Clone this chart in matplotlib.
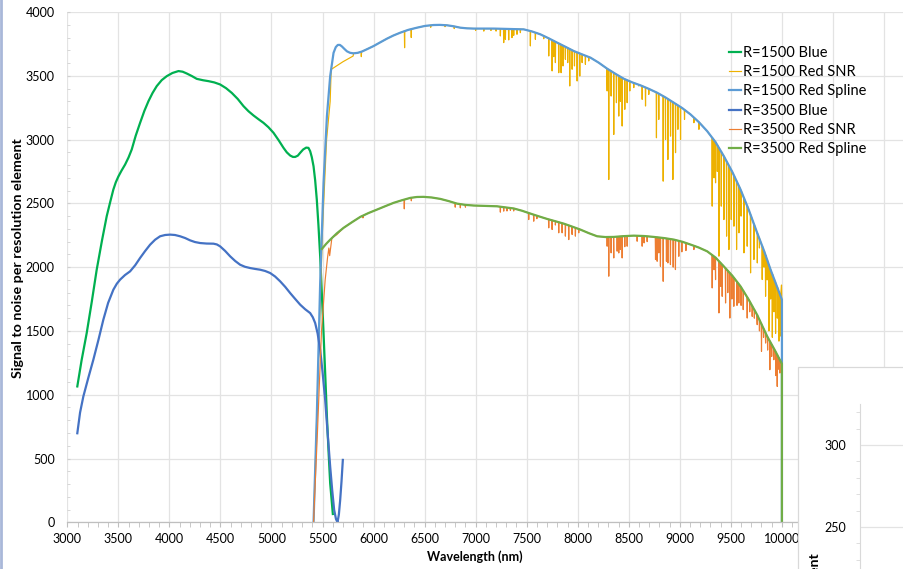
import numpy as np
import matplotlib
matplotlib.use("Agg")
import matplotlib.pyplot as plt
from matplotlib.lines import Line2D
from matplotlib.patches import Rectangle
from matplotlib.ticker import MultipleLocator

plt.rcParams['font.family'] = ['Lato', 'DejaVu Sans']

# R=1500 blue arm
r1500_blue_wl = [3098, 3140, 3190, 3240, 3288, 3340, 3386, 3420, 3451, 3475, 3500, 3530,
                 3566, 3600, 3631, 3670, 3713, 3755, 3795, 3835, 3876, 3925, 3974, 4030,
                 4089, 4130, 4170, 4220, 4268, 4330, 4383, 4440, 4497, 4555, 4611, 4670,
                 4726, 4775, 4824, 4872, 4922, 4970, 5020, 5070, 5118, 5150, 5183, 5210,
                 5232, 5258, 5281, 5310, 5340, 5362, 5379, 5395, 5412, 5428, 5444, 5460,
                 5477, 5493, 5510, 5527, 5543, 5560, 5575, 5601]
r1500_blue = [1065, 1270, 1483, 1730, 1980, 2210, 2399, 2510, 2608, 2665, 2710, 2755,
              2804, 2860, 2922, 3030, 3131, 3225, 3301, 3365, 3419, 3466, 3497, 3522,
              3537, 3532, 3518, 3498, 3476, 3465, 3458, 3448, 3432, 3403, 3366, 3318,
              3262, 3222, 3189, 3160, 3131, 3097, 3053, 2995, 2935, 2900, 2875, 2864,
              2864, 2874, 2896, 2922, 2937, 2935, 2909, 2862, 2791, 2680, 2529, 2330,
              2085, 1800, 1483, 1150, 829, 540, 306, 65]

# R=3500 blue arm
r3500_blue_wl = [3098, 3125, 3157, 3205, 3255, 3305, 3353, 3400, 3451, 3485, 3517, 3565,
                 3615, 3665, 3713, 3762, 3811, 3860, 3909, 3958, 4007, 4055, 4105, 4155,
                 4203, 4250, 4301, 4365, 4432, 4465, 4497, 4545, 4595, 4645, 4693, 4740,
                 4791, 4840, 4889, 4938, 4987, 5035, 5085, 5135, 5183, 5232, 5281, 5330,
                 5379, 5405, 5428, 5452, 5477, 5500, 5526, 5550, 5575, 5595, 5614, 5632,
                 5647, 5660, 5673, 5686, 5699]
r3500_blue = [698, 860, 986, 1130, 1274, 1430, 1588, 1720, 1823, 1870, 1902, 1938,
              1967, 2015, 2072, 2126, 2176, 2215, 2242, 2252, 2255, 2252, 2242, 2228,
              2210, 2197, 2189, 2185, 2184, 2178, 2163, 2128, 2085, 2048, 2019, 2003,
              1993, 1986, 1980, 1970, 1954, 1927, 1889, 1845, 1797, 1751, 1706, 1670,
              1640, 1607, 1562, 1480, 1352, 1180, 960, 700, 437, 250, 97, 25,
              0, 60, 175, 320, 489]

# R=1500 red arm, smooth continuum
r1500_spline_wl = [5412, 5444, 5477, 5510, 5543, 5575, 5608, 5630, 5650, 5670, 5690, 5715,
                   5739, 5770, 5804, 5845, 5886, 5940, 6000, 6065, 6131, 6195, 6262, 6340,
                   6425, 6505, 6588, 6650, 6719, 6785, 6850, 6915, 6980, 7176, 7471, 7550,
                   7634, 7715, 7798, 7880, 7961, 8045, 8125, 8205, 8288, 8370, 8451, 8535,
                   8615, 8695, 8778, 8860, 8941, 9025, 9105, 9185, 9268, 9350, 9431, 9515,
                   9595, 9675, 9758, 9825, 9889, 9945, 10000, 10000]
r1500_spline = [0, 829, 1875, 2660, 3183, 3497, 3680, 3725, 3742, 3742, 3730, 3710,
                3692, 3680, 3676, 3680, 3690, 3710, 3733, 3762, 3791, 3816, 3838, 3860,
                3877, 3891, 3898, 3899, 3896, 3888, 3877, 3872, 3870, 3870, 3864, 3848,
                3825, 3794, 3760, 3727, 3694, 3667, 3642, 3603, 3556, 3515, 3477, 3448,
                3425, 3398, 3367, 3330, 3289, 3246, 3197, 3138, 3066, 2980, 2870, 2745,
                2608, 2450, 2268, 2128, 1980, 1862, 1745, 0]

# R=1500 red arm SNR: rising edge, absorption line minima, red end
r1500_snr_head_wl = [5412, 5450, 5500, 5540, 5575, 5585, 5700, 5800]
r1500_snr_head = [0, 1000, 2300, 3000, 3300, 3550, 3610, 3655]
r1500_line_wl = [5880, 6304, 6369, 6560, 6700, 6790, 7000, 7080, 7150, 7200,
                 7242, 7275, 7291, 7324, 7356, 7373, 7405, 7438,
                 7536, 7585, 7667,
                 7716, 7749, 7765, 7781, 7814, 7837, 7856, 7879, 7902, 7922, 7945, 7968,
                 7994, 8020, 8043, 8075, 8108,
                 8288, 8304, 8327, 8353, 8379, 8402, 8418, 8435, 8461, 8484, 8510, 8549,
                 8598, 8631, 8664, 8696,
                 8771, 8794, 8837, 8860, 8883, 8909, 8932, 8958, 8981, 9007, 9046, 9089,
                 9138, 9187,
                 9317, 9335, 9350, 9367, 9383, 9406, 9432, 9458, 9481, 9504, 9530, 9556,
                 9579, 9600, 9628, 9660, 9693, 9726, 9759, 9780, 9807, 9825, 9840, 9855,
                 9873, 9890, 9906, 9922, 9938, 9955, 9971, 9985]
r1500_line_min = [3650, 3720, 3800, 3880, 3885, 3870, 3855, 3850, 3855, 3850,
                  3812, 3760, 3786, 3781, 3799, 3817, 3825, 3838,
                  3734, 3786, 3790,
                  3655, 3538, 3650, 3603, 3524, 3524, 3577, 3629, 3603, 3420, 3551, 3577,
                  3459, 3498, 3603, 3590, 3616,
                  3381, 2687, 3341, 3040, 3289, 3184, 3300, 3106, 3237, 3289, 3381, 3407,
                  3420, 3315, 3263, 3354,
                  3014, 3158, 2674, 3001, 2844, 3027, 2687, 2897, 3080, 3001, 3158, 3210,
                  3132, 3080,
                  2478, 2700, 2661, 2750, 2086, 2478, 2373, 2243, 2138, 2373, 2321, 2138,
                  2269, 2400, 2112, 2164, 1955, 2060, 2033, 2150, 1903, 2000, 1772, 1900,
                  1500, 1750, 1450, 1650, 1480, 1600, 1420, 1460]
r1500_snr_tail_wl = [9996, 10000, 10000]
r1500_snr_tail = [1860, 1700, 0]

# R=3500 red arm, smooth continuum
r3500_spline_wl = [5494, 5535, 5576, 5640, 5706, 5790, 5870, 5950, 6033, 6115, 6196, 6280,
                   6360, 6425, 6490, 6570, 6654, 6735, 6817, 6900, 6980, 7209, 7373, 7455,
                   7536, 7620, 7700, 7780, 7863, 7945, 8027, 8110, 8190, 8270, 8353, 8450,
                   8549, 8650, 8745, 8845, 8941, 9025, 9105, 9185, 9268, 9350, 9431, 9515,
                   9595, 9675, 9758, 9856, 9930, 10000, 10000]
r3500_spline = [2143, 2182, 2216, 2265, 2308, 2353, 2394, 2424, 2451, 2478, 2504, 2525,
                2543, 2550, 2551, 2546, 2535, 2518, 2498, 2488, 2483, 2477, 2460, 2442,
                2420, 2398, 2378, 2360, 2341, 2318, 2294, 2266, 2242, 2236, 2237, 2243,
                2247, 2244, 2237, 2228, 2216, 2199, 2177, 2154, 2124, 2075, 2006, 1932,
                1849, 1745, 1625, 1457, 1350, 1242, 0]

# R=3500 red arm SNR
r3500_snr_head_wl = [5412, 5450, 5490, 5526, 5550, 5562, 5570, 5592, 5640]
r3500_snr_head = [0, 700, 1500, 1900, 2080, 2150, 2090, 2230, 2255]
r3500_line_wl = [5896, 6301, 6370, 6800, 6850, 6900, 7242, 7275, 7307, 7340, 7373,
                 7520, 7569, 7600, 7716, 7749, 7781, 7814, 7847, 7879, 7912, 7945, 7977,
                 8010,
                 8288, 8304, 8327, 8353, 8386, 8402, 8418, 8435, 8461, 8484, 8582, 8631,
                 8650, 8680,
                 8762, 8778, 8794, 8810, 8837, 8869, 8883, 8908, 8935, 8957, 8990, 9020,
                 9060, 9138,
                 9317, 9335, 9350, 9383, 9400, 9415, 9448, 9470, 9490, 9510, 9529, 9560,
                 9578, 9600, 9621, 9660, 9685, 9709, 9730, 9758, 9780, 9800, 9820, 9840,
                 9860, 9882, 9900, 9921, 9940, 9954, 9968, 9980]
r3500_line_min = [2386, 2457, 2520, 2470, 2465, 2470, 2431, 2439, 2440, 2445, 2440,
                  2373, 2360, 2380, 2308, 2295, 2330, 2269, 2269, 2243, 2216, 2256, 2243,
                  2269,
                  2164, 1929, 2112, 2072, 2125, 2111, 2138, 2072, 2160, 2164, 2203, 2164,
                  2190, 2200,
                  2060, 2046, 2112, 2007, 1889, 2046, 2033, 2020, 2000, 1981, 2085, 2120,
                  2130, 2138,
                  1837, 1980, 1902, 1641, 1850, 1771, 1719, 1800, 1601, 1750, 1693, 1700,
                  1719, 1700, 1667, 1601, 1650, 1614, 1600, 1549, 1500, 1340, 1450, 1405,
                  1350, 1196, 1300, 1274, 1150, 1065, 1200, 1170]
r3500_snr_tail_wl = [10000, 10000]
r3500_snr_tail = [1242, 0]

labels = ['R=1500 Blue', 'R=1500 Red SNR', 'R=1500 Red Spline',
          'R=3500 Blue', 'R=3500 Red SNR', 'R=3500 Red Spline']
colors = ['#00B050', '#EDB100', '#5B9BD5', '#4472C4', '#ED7D31', '#70AD47']


def snr_trace(head_wl, head, knot_wl, knot, line_wl, line_min, tail_wl, tail, half=2.5):
    # continuum knots between the rising edge and the red end,
    # with each absorption line drawn as a narrow spike down to its minimum
    knot_wl = np.asarray(knot_wl[:-1], float)
    knot = np.asarray(knot[:-1], float)
    keep = (knot_wl > head_wl[-1]) & (knot_wl < tail_wl[0])
    pts = list(zip(knot_wl[keep], knot[keep]))
    for w, m in zip(line_wl, line_min):
        cont = np.interp(w, knot_wl, knot)
        pts += [(w - half, cont), (w, min(m, cont)), (w + half, cont)]
    pts.sort()
    wl = list(head_wl) + [p[0] for p in pts] + list(tail_wl)
    val = list(head) + [p[1] for p in pts] + list(tail)
    return wl, val


r1500_snr_wl, r1500_snr = snr_trace(r1500_snr_head_wl, r1500_snr_head,
                                    r1500_spline_wl, r1500_spline,
                                    r1500_line_wl, r1500_line_min,
                                    r1500_snr_tail_wl, r1500_snr_tail)
r3500_snr_wl, r3500_snr = snr_trace(r3500_snr_head_wl, r3500_snr_head,
                                    r3500_spline_wl, r3500_spline,
                                    r3500_line_wl, r3500_line_min,
                                    r3500_snr_tail_wl, r3500_snr_tail)

W, H = 904, 569
x0, x1 = 67.3, 67.3 + 8200 * (884 - 67.3) / 8000
fig = plt.figure(figsize=(W / 100, H / 100), dpi=100)
ax = fig.add_axes([x0 / W, (H - 522.3) / H, (x1 - x0) / W, (522.3 - 12) / H])

series = [
    (r1500_blue_wl, r1500_blue, 1.6),
    (r1500_snr_wl, r1500_snr, 0.85),
    (r1500_spline_wl, r1500_spline, 1.6),
    (r3500_blue_wl, r3500_blue, 1.6),
    (r3500_snr_wl, r3500_snr, 0.85),
    (r3500_spline_wl, r3500_spline, 1.6),
]
for (x, y, lw), lab, c in zip(series, labels, colors):
    ax.plot(x, y, color=c, lw=lw, label=lab, solid_joinstyle='round')

ax.set_xlim(3000, 11200)
ax.set_ylim(0, 4000)
ax.xaxis.set_major_locator(MultipleLocator(500))
ax.xaxis.set_minor_locator(MultipleLocator(100))
ax.yaxis.set_major_locator(MultipleLocator(500))
ax.yaxis.set_minor_locator(MultipleLocator(100))
ax.grid(True, which='major', color='#E3E3E3', lw=0.9)
ax.set_axisbelow(True)
for s in ['top', 'right', 'left']:
    ax.spines[s].set_visible(False)
ax.spines['bottom'].set_color('#BFBFBF')
ax.spines['bottom'].set_linewidth(0.9)
ax.tick_params(axis='x', which='both', direction='out', length=3.5, color='#BFBFBF',
               labelsize=9, labelcolor='black', pad=4)
ax.tick_params(axis='y', which='both', direction='in', length=2.5, color='#D0D0D0',
               labelsize=9, labelcolor='black', pad=9)
ax.set_xlabel('Wavelength (nm)', fontsize=9, fontweight='bold')
ax.xaxis.set_label_coords((475 - x0) / (x1 - x0), -(557 - 522.3) / 510.3)
ax.xaxis.label.set_va('center')
ax.set_ylabel('Signal to noise per resolution element', fontsize=10.3, fontweight='bold')
ax.yaxis.set_label_coords(-(x0 - 18) / (x1 - x0), (522.3 - 258) / 510.3)
ax.yaxis.label.set_va('center')

leg = ax.legend(loc='upper left', bbox_to_anchor=(729 / W, 1 - 46 / H),
                bbox_transform=fig.transFigure, frameon=False, fontsize=10.5,
                handlelength=0.85, handletextpad=0.1, labelspacing=0.36,
                borderaxespad=0, borderpad=0)

# neighbouring chart peeking in at the lower right
fig.add_artist(Rectangle((798 / W, -0.01), 0.2, 0.01 + (H - 367) / H,
                         transform=fig.transFigure, facecolor='white',
                         edgecolor='#D9D9D9', lw=0.9, zorder=5))
ax2 = fig.add_axes([860 / W, 0, 0.2, (H - 404) / H], zorder=6)
ax2.patch.set_alpha(0)
ax2.set_ylim(250 - (H - 527) / 1.64, 300 + (445 - 404) / 1.64)
ax2.set_xlim(0, 1)
ax2.set_yticks([250, 300])
ax2.yaxis.set_minor_locator(MultipleLocator(10))
ax2.set_xticks([])
ax2.grid(True, axis='y', color='#E3E3E3', lw=0.9)
for s in ['top', 'right', 'bottom']:
    ax2.spines[s].set_visible(False)
ax2.spines['left'].set_color('#D9D9D9')
ax2.tick_params(axis='y', which='major', length=0, labelsize=9, pad=10)
ax2.tick_params(axis='y', which='minor', direction='out', length=3, color='#D9D9D9')
fig.text(815 / W, 1 - 553 / H, 'Signal to noise per resolution element', rotation=90,
         ha='center', va='top', fontsize=10.3, fontweight='bold', zorder=7)

fig.add_artist(Line2D([0.001, 0.001], [0, 1], transform=fig.transFigure,
                      color='#A9B8D9', lw=2))

fig.savefig('out.png', dpi=100)
